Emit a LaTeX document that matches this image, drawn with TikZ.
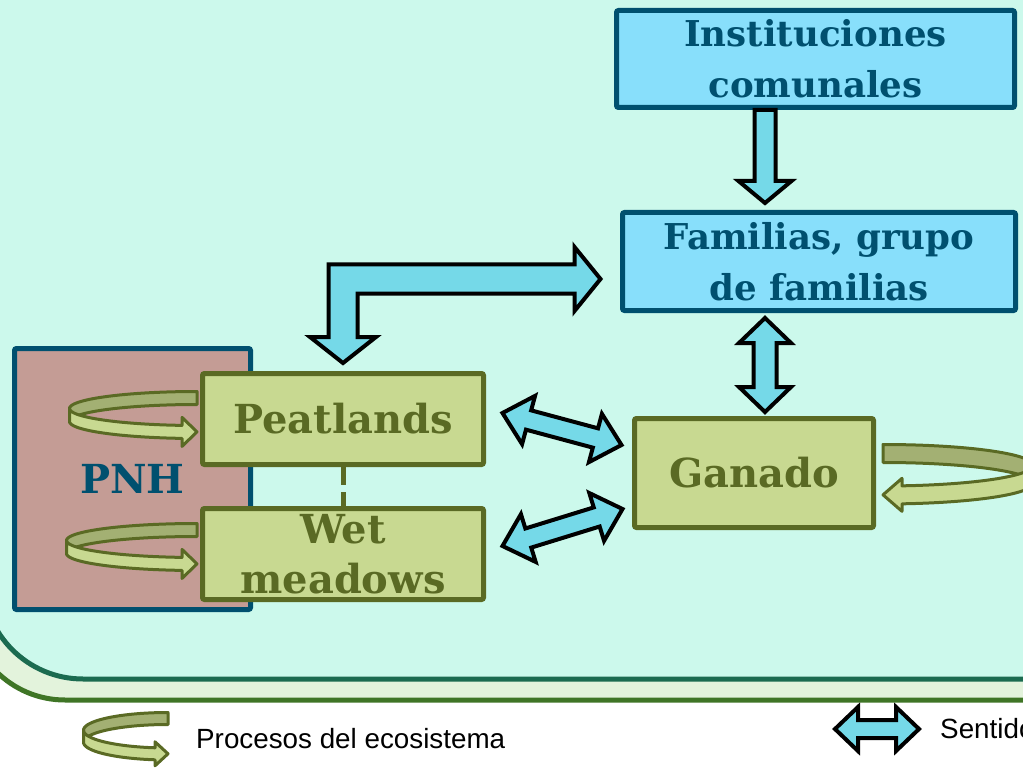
\documentclass[tikz,border=0pt]{standalone}
\usepackage{fontspec}
\setmainfont{Liberation Sans}
\newfontfamily\boxfont{DejaVu Serif}
\usetikzlibrary{calc}
\definecolor{mint}{HTML}{CCF9EC}
\definecolor{bandfill}{HTML}{E3F3DC}
\definecolor{bandline}{HTML}{3F7526}
\definecolor{innerline}{HTML}{1B6B50}
\definecolor{skyfill}{HTML}{88DFFB}
\definecolor{petrol}{HTML}{00506F}
\definecolor{leaf}{HTML}{C8D991}
\definecolor{olivedk}{HTML}{5A6A24}
\definecolor{rosy}{HTML}{C49C95}
\definecolor{arrowfill}{HTML}{75D9E8}
\definecolor{loopback}{HTML}{A3B073}

% block arrow, one head: tail, tip, half shaft, half head, head length
\newcommand\onehead[5]{%
  \coordinate (hb) at ($(#2)!#5!(#1)$);
  \draw[fatarr] ($(#1)!#3!90:(#2)$) -- ($(hb)!#3!90:(#2)$) -- ($(hb)!#4!90:(#2)$) -- (#2)
    -- ($(hb)!#4!-90:(#2)$) -- ($(hb)!#3!-90:(#2)$) -- ($(#1)!#3!-90:(#2)$) -- cycle;}
% block arrow, two heads
\newcommand\twohead[5]{%
  \coordinate (ha) at ($(#1)!#5!(#2)$);
  \coordinate (hb) at ($(#2)!#5!(#1)$);
  \draw[fatarr] (#1) -- ($(ha)!#4!90:(#2)$) -- ($(ha)!#3!90:(#2)$) -- ($(hb)!#3!-90:(#1)$)
    -- ($(hb)!#4!-90:(#1)$) -- (#2) -- ($(hb)!#4!90:(#1)$) -- ($(hb)!#3!90:(#1)$)
    -- ($(ha)!#3!-90:(#2)$) -- ($(ha)!#4!-90:(#2)$) -- cycle;}
% curled ribbon arrow: x, y, a, b, band, half head, head length, xscale
\newcommand\ecoloop[8]{%
  \begin{scope}[shift={(#1,#2)}, xscale=#8]
    \pgfmathsetmacro\lpang{acos(-#7/#3)}
    \pgfmathsetmacro\lpmid{#4*sin(\lpang)+#5/2}
    \draw[loopline, fill=loopback] plot[domain=270:180, samples=30] ({#3*cos(\x)},{#4*sin(\x)})
      -- plot[domain=180:270, samples=30] ({#3*cos(\x)},{#5+#4*sin(\x)}) -- cycle;
    \draw[loopline, fill=leaf] plot[domain=180:\lpang, samples=30] ({#3*cos(\x)},{#4*sin(\x)})
      -- ({-#7},{\lpmid-#6}) -- (0,\lpmid) -- ({-#7},{\lpmid+#6}) -- ({-#7},{#4*sin(\lpang)+#5})
      -- plot[domain=\lpang:180, samples=30] ({#3*cos(\x)},{#5+#4*sin(\x)}) -- cycle;
  \end{scope}}

\begin{document}
\begin{tikzpicture}[x=1pt, y=-1pt,
    topbox/.style={draw=petrol, fill=skyfill, line width=5pt, rounded corners=2pt, align=center,
                   inner sep=0pt, text=petrol, font=\boxfont\bfseries\fontsize{35.6}{51}\selectfont},
    landbox/.style={draw=olivedk, fill=leaf, line width=5pt, rounded corners=2pt, align=center,
                    inner sep=0pt, text=olivedk, font=\boxfont\bfseries\fontsize{40}{50}\selectfont},
    pnhbox/.style={landbox, draw=petrol, fill=rosy, text=petrol},
    fatarr/.style={draw=black, line width=4pt, fill=arrowfill, line join=miter},
    loopline/.style={draw=olivedk, line width=3pt, line join=round},
    legtext/.style={anchor=base west, inner sep=0pt, font=\fontsize{27.8}{33}\selectfont}]
  \useasboundingbox (0,0) rectangle (1023,770);
  \clip (0,0) rectangle (1023,770);
  % panels
  \fill[white] (0,0) rectangle (1023,770);
  \draw[bandline, line width=5pt, fill=bandfill, rounded corners=97pt] (-32,-200) rectangle (1200,700);
  \draw[innerline, line width=5pt, fill=mint, rounded corners=100pt] (-17,-200) rectangle (1200,679);

  % boxes
  \node[pnhbox, minimum width=236pt, minimum height=261pt] (pnh) at (132.5,479) {PNH};
  \node[landbox, minimum width=281pt, minimum height=91pt] (peat) at (343,419) {Peatlands};
  \node[landbox, minimum width=281pt, minimum height=91pt] (wet) at (343,554) {Wet\\meadows};
  \node[landbox, minimum width=239pt, minimum height=109pt] (gan) at (754,473) {Ganado};
  \node[topbox, minimum width=398pt, minimum height=97pt] (inst) at (815.5,59) {Instituciones\\comunales};
  \node[topbox, minimum width=393pt, minimum height=98pt] (fam) at (819,261.5) {Familias, grupo\\de familias};
  \draw[olivedk, line width=5pt, dash pattern=on 18pt off 7pt] (peat.south) -- (wet.north);

  % block arrows
  \coordinate (col) at (765,0);
  \coordinate (d1) at (col |- inst.south);
  \coordinate (d2) at ($(col |- fam.north)+(0,-7)$);
  \onehead{d1}{d2}{10.5pt}{26.5pt}{22pt}
  \coordinate (v1) at ($(col |- fam.south)+(0,5)$);
  \coordinate (v2) at ($(col |- gan.north)+(0,-4)$);
  \twohead{v1}{v2}{11.5pt}{26pt}{25pt}
  \coordinate (p1) at ($(peat.east)+(16.5,-6)$);
  \coordinate (p2) at ($(gan.west)+(-10.5,-28)$);
  \twohead{p1}{p2}{10pt}{25pt}{27pt}
  \coordinate (q1) at ($(wet.east)+(16.5,-8)$);
  \coordinate (q2) at ($(gan.west)+(-9.5,36)$);
  \twohead{q1}{q2}{10pt}{25pt}{27pt}
  \coordinate (bR) at ($(fam.west)+(-19.5,17.5)$);
  \coordinate (bD) at ($(peat.north)+(0,-8)$);
  \coordinate (bC) at (bD |- bR);
  \draw[fatarr] ($(bC)+(-14.5,-14.5)$) -- ($(bR)+(-26,-14.5)$) -- ($(bR)+(-26,-32)$) -- (bR)
    -- ($(bR)+(-26,32)$) -- ($(bR)+(-26,14.5)$) -- ($(bC)+(14.5,14.5)$) -- ($(bD)+(14.5,-26)$)
    -- ($(bD)+(33,-26)$) -- (bD) -- ($(bD)+(-33,-26)$) -- ($(bD)+(-14.5,-26)$) -- cycle;

  % ecosystem loops
  \ecoloop{197}{408.5}{127.5}{17}{13}{14.5}{15}{1}
  \ecoloop{197}{540.5}{130.5}{17}{13}{14.5}{15}{1}
  \ecoloop{883}{465.25}{150}{20.75}{18}{16.5}{19}{-1}

  % legend
  \ecoloop{168}{730.25}{84.5}{17.75}{12}{12}{13}{1}
  \node[legtext] (lproc) at (196,748) {Procesos del ecosistema};
  \coordinate (lg1) at (835,729);
  \coordinate (lg2) at (919,729);
  \twohead{lg1}{lg2}{9pt}{22pt}{23pt}
  \node[legtext] (lsent) at (940,738) {Sentido};
\end{tikzpicture}
\end{document}
